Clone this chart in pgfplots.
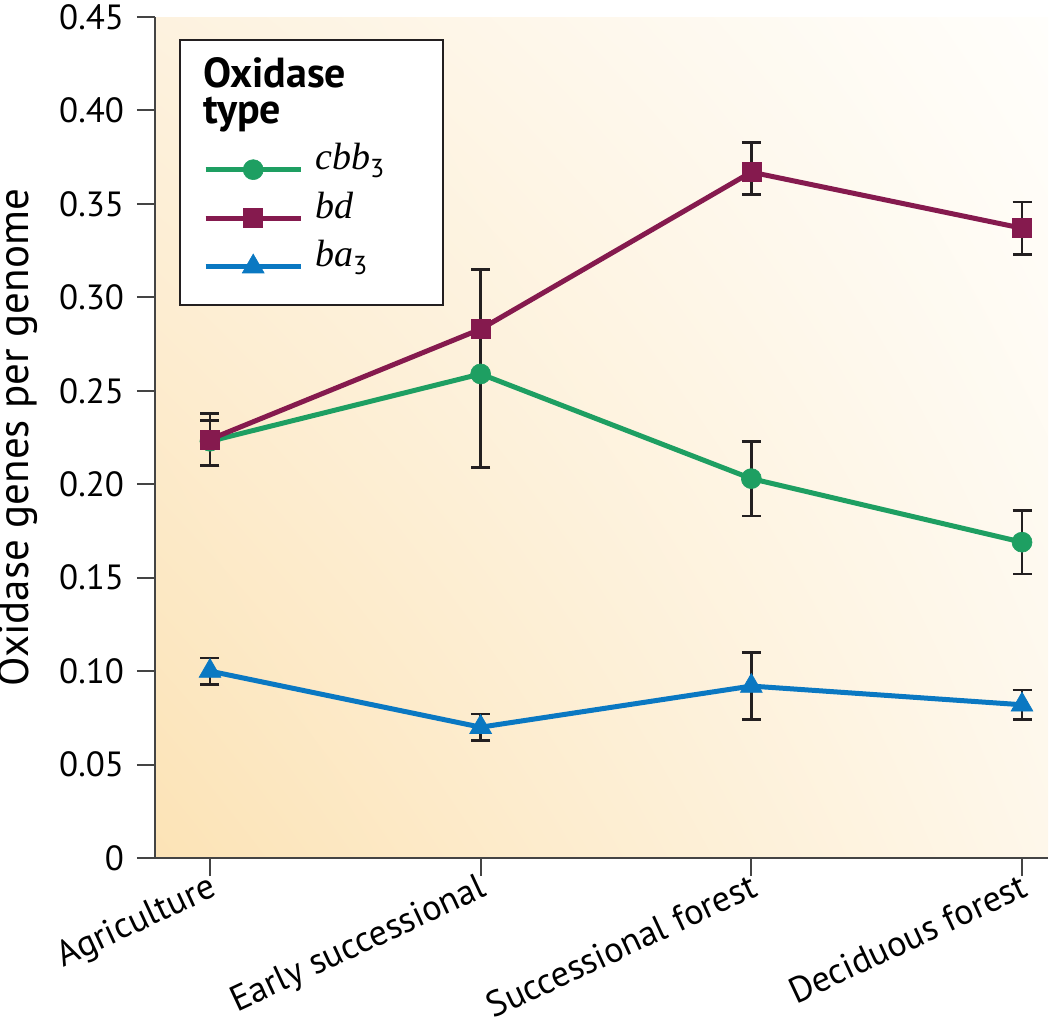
\documentclass[border=0pt]{standalone}
\usepackage{fontspec}
\setmainfont{PT Sans}
\newfontfamily\serifit{Liberation Serif}
\usepackage{pgfplots}
\pgfplotsset{compat=1.18}
\usetikzlibrary{shadings}
\definecolor{cgreen}{HTML}{1E9F62}
\definecolor{cmaroon}{HTML}{851A4E}
\definecolor{cblue}{HTML}{0A78C2}
\definecolor{errc}{HTML}{231F20}
\definecolor{axc}{HTML}{444444}
\definecolor{bgLL}{HTML}{FCE3B6}
\definecolor{bgUL}{HTML}{FDF2DF}
\definecolor{bgLR}{HTML}{FEF7EA}
\definecolor{bgUR}{HTML}{FFFEFB}
\pgfplotstableread{
x y ep em
0 0.223 0.011 0.013
1 0.259 0.024 0.050
2 0.203 0.020 0.020
3 0.169 0.017 0.017
}\cbb
\pgfplotstableread{
x y ep em
0 0.224 0.014 0.014
1 0.283 0.032 0.000
2 0.367 0.016 0.012
3 0.337 0.014 0.014
}\bd
\pgfplotstableread{
x y ep em
0 0.100 0.007 0.007
1 0.070 0.007 0.007
2 0.092 0.018 0.018
3 0.082 0.008 0.008
}\ba
\begin{document}
\begin{tikzpicture}
\begin{axis}[
  at={(0,0)}, anchor=south west,
  scale only axis, width=446.5pt, height=420.5pt,
  xmin=-0.203, xmax=3.096, ymin=0, ymax=0.45,
  axis x line*=bottom, axis y line*=left,
  axis line style={axc, line width=1pt},
  axis background/.style={lower left=bgLL, upper left=bgUL, lower right=bgLR, upper right=bgUR},
  xtick={0,1,2,3},
  xticklabels={Agriculture, Early successional, Successional forest, Deciduous forest},
  ytick={0,0.05,0.10,0.15,0.20,0.25,0.30,0.35,0.40,0.45},
  yticklabels={0,0.05,0.10,0.15,0.20,0.25,0.30,0.35,0.40,0.45},
  tick align=outside, major tick length=9pt,
  tick style={axc, line width=1pt},
  yticklabel style={font=\fontsize{17.5}{20}\selectfont, text=black, xshift=-3pt},
  xticklabel style={font=\fontsize{18}{21}\selectfont, text=black, rotate=25, anchor=north east, xshift=3pt, yshift=6pt},
  ylabel={Oxidase genes per genome},
  every axis y label/.style={at={(rel axis cs:0,0.5)}, xshift=-68.5pt, rotate=90, anchor=center, font=\fontsize{21.5}{24}\selectfont},
  clip=false,
  legend style={draw=none, fill=none, at={(rel axis cs:0.054,0.847)}, anchor=north west,
    inner sep=0pt, outer sep=0pt, row sep=6.25pt, column sep=6pt,
    nodes={inner sep=0pt, text height=12pt, text depth=6pt, anchor=base west},
    font=\fontsize{19}{22}\selectfont},
  legend cell align=left,
  legend image code/.code={\draw[mark repeat=2, mark phase=2, #1] plot coordinates {(0pt,0pt) (23.75pt,0pt) (47.5pt,0pt)};},
  every axis plot/.append style={line width=2.5pt},
  error bars/error bar style={line width=1.3pt, errc},
  error bars/error mark options={rotate=90, mark size=4.75pt, line width=1.3pt, errc},
]
\fill[white] (rel axis cs:0.028,0.973) rectangle (rel axis cs:0.322,0.658);
\draw[errc, line width=1pt] (rel axis cs:0.028,0.973) rectangle (rel axis cs:0.322,0.658);
\addplot[cgreen, mark=*, mark size=5pt, mark options={line width=0.3pt, fill=cgreen, draw=cgreen},
  error bars/.cd, y dir=both, y explicit] table[x=x, y=y, y error plus=ep, y error minus=em] {\cbb};
\addlegendentry{{\serifit\itshape cbb}\raisebox{-4pt}{\fontsize{13}{14}\selectfont 3}}
\addplot[cmaroon, mark=square*, mark size=4.75pt, mark options={line width=0.3pt, fill=cmaroon, draw=cmaroon},
  error bars/.cd, y dir=both, y explicit] table[x=x, y=y, y error plus=ep, y error minus=em] {\bd};
\addlegendentry{{\serifit\itshape bd}}
\addplot[cblue, mark=triangle*, mark size=6.3pt, mark options={line width=0.3pt, fill=cblue, draw=cblue},
  error bars/.cd, y dir=both, y explicit] table[x=x, y=y, y error plus=ep, y error minus=em] {\ba};
\addlegendentry{{\serifit\itshape ba}\raisebox{-4pt}{\fontsize{13}{14}\selectfont 3}}
\node[anchor=base west, inner sep=0pt, font=\fontsize{21}{24}\selectfont\bfseries] at (rel axis cs:0.0538,0.9156) {Oxidase};
\node[anchor=base west, inner sep=0pt, font=\fontsize{21}{24}\selectfont\bfseries] at (rel axis cs:0.0538,0.8728) {type};
\end{axis}
\pgfresetboundingbox
\path[use as bounding box] (-77.5pt,-83.5pt) rectangle (447.5pt,429pt);
\end{tikzpicture}
\end{document}
